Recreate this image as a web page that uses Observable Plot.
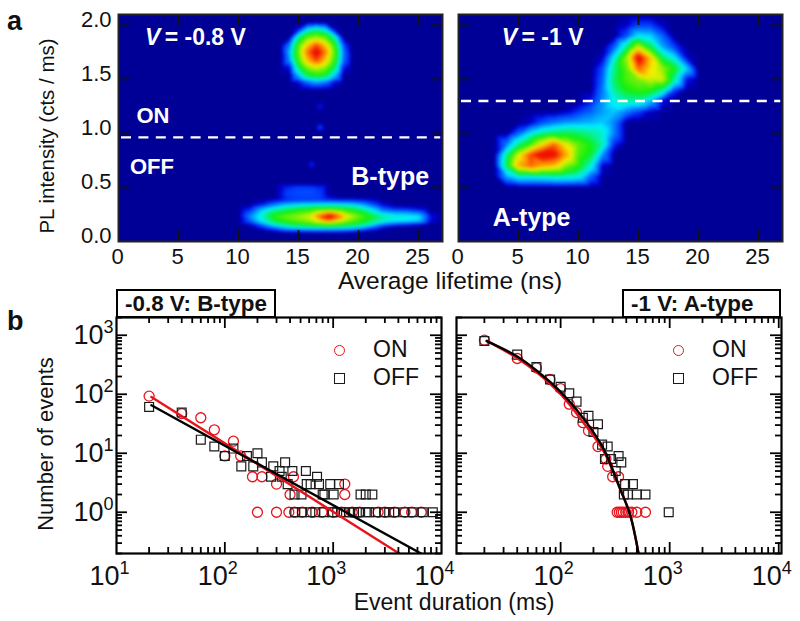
<!DOCTYPE html>
<html><head><meta charset="utf-8">
<script src="https://cdn.jsdelivr.net/npm/d3@7"></script>
<script src="https://cdn.jsdelivr.net/npm/@observablehq/plot@0.6"></script>
<style>
html,body{margin:0;padding:0;background:#fff}
#fig{position:relative;width:800px;height:621px;overflow:hidden;font-family:"Liberation Sans",Arial,sans-serif;color:#111}
#fig>svg,#fig>div{position:absolute}
#fig svg{overflow:visible;background:transparent}
.box{box-sizing:border-box;border:2px solid #000;font-weight:bold;font-size:22.4px;line-height:26px;white-space:nowrap}
.lab{white-space:nowrap;line-height:1}
.mk{box-sizing:border-box;width:11px;height:11px;background:#fff}
</style></head><body><div id="fig"></div>
<script>
// ---------- panel a: PL intensity vs lifetime, hand-read level grids (0 = background, 10 = peak)
const levelStops = [0, 0.25, 0.7, 2.2, 4, 6.4, 8, 9.4];
const levelColors = ["#000096", "#0000d0", "#0040ff", "#00f0ff", "#10f010", "#f4f000", "#ff8000", "#f01000"];

const topX = [13.5, 14.25, 15, 15.75, 16.5, 17.25, 18, 18.75, 19.5];
const topY = [2.03, 1.96, 1.89, 1.82, 1.75, 1.68, 1.61, 1.54, 1.47, 1.40];
const topZ = [
  [0, 0, 0, 0, 0, 0, 0, 0, 0],
  [0, 0, .4, 2.2, 2.9, 2.2, .2, 0, 0],
  [0, 0, 3, 4.9, 5.5, 4.8, 2.7, 0, 0],
  [0, 1.2, 4.5, 6.9, 8.5, 6.8, 4.2, .8, 0],
  [0, 1.7, 5, 8.2, 10, 8, 4.8, 1.2, 0],
  [0, 1.4, 4.6, 7.2, 8.8, 7, 4.4, 1.1, 0],
  [0, .3, 3.3, 5.3, 6, 5.3, 3.4, .4, 0],
  [0, 0, 1.8, 3.6, 4.2, 3.8, 2, 0, 0],
  [0, 0, .2, .9, 1.4, 1, .2, 0, 0],
  [0, 0, 0, 0, 0, 0, 0, 0, 0]
];
const lowX = [10, 11, 12, 13, 14, 15, 16, 17, 17.6, 18.5, 19, 20, 21, 22, 23, 24, 25, 26, 27];
const lowY = [.54, .50, .45, .41, .38, .34, .30, .27, .23, .19, .16, .13, .10, .07];
const lowZ = [
  [0, 0, 0, 0, 0, 0, 0, 0, 0, 0, 0, 0, 0, 0, 0, 0, 0, 0, 0],
  [0, 0, 0, 0, .5, .7, .7, .5, 0, 0, 0, 0, 0, 0, 0, 0, 0, 0, 0],
  [0, 0, 0, 0, .7, .8, .8, .6, 0, 0, 0, 0, 0, 0, 0, 0, 0, 0, 0],
  [0, 0, 0, 0, .6, .7, .7, .6, .2, 0, 0, 0, 0, 0, 0, 0, 0, 0, 0],
  [0, 0, 0, .3, .6, .7, .7, .7, .7, .6, .6, .5, .3, 0, 0, 0, 0, 0, 0],
  [0, 0, .5, 1.2, 1.8, 2.1, 2.3, 2.4, 2.4, 2.3, 2.2, 1.8, 1, .3, 0, 0, 0, 0, 0],
  [0, .5, 1.7, 2.6, 3.2, 3.7, 4, 4.4, 4.5, 4.2, 3.9, 3.2, 2.2, 1, .6, .5, .3, 0, 0],
  [0, .9, 2.3, 3.4, 4, 4.5, 5, 6.6, 7.4, 6, 4.9, 4.1, 3, 1.8, 1.5, 1.4, 1.1, 0, 0],
  [0, 1.4, 2.6, 4.3, 5, 5.5, 6.2, 9, 10, 8, 6.5, 5, 4, 3, 2.5, 2.4, 2.2, .4, 0],
  [0, 1, 2.3, 3.6, 4.3, 4.8, 5.4, 7, 7.6, 6.2, 5.3, 4.3, 3.5, 2.6, 2.2, 2.1, 1.9, .3, 0],
  [0, .3, 1.4, 2.6, 3.4, 3.9, 4.3, 4.7, 4.9, 4.5, 4.1, 3.5, 2.6, 1.4, .9, .7, .4, 0, 0],
  [0, 0, .5, 1.3, 2, 2.4, 2.7, 2.9, 2.9, 2.7, 2.5, 2, 1.1, .3, 0, 0, 0, 0, 0],
  [0, 0, 0, .3, .7, .8, .9, .9, .9, .9, .8, .6, .2, 0, 0, 0, 0, 0, 0],
  [0, 0, 0, 0, 0, 0, 0, 0, 0, 0, 0, 0, 0, 0, 0, 0, 0, 0, 0]
];
const speckX = [16.8, 16.8, 16.1];
const speckY = [1.055, 1.25, .71];
const speckZ = [.9, .5, .6];

const rightX = [3, 4, 5, 6, 7, 8, 9, 10, 11, 12, 13, 14, 15, 16, 17, 18, 19, 20];
const rightY = [2.1, 2.0, 1.9, 1.8, 1.7, 1.6, 1.5, 1.4, 1.3, 1.2, 1.1, 1.0, .9, .8, .7, .6, .5];
const rightZ = [
  [0, 0, 0, 0, 0, 0, 0, 0, 0, 0, 0, 0, 0, 0, 0, 0, 0, 0],
  [0, 0, 0, 0, 0, 0, 0, 0, 0, 0, 0, .2, .7, .7, .2, 0, 0, 0],
  [0, 0, 0, 0, 0, 0, 0, 0, 0, 0, 0, .8, 2.2, 2, 1, 0, 0, 0],
  [0, 0, 0, 0, 0, 0, 0, 0, 0, 0, 1, 3, 6, 3.6, 1.6, .7, 0, 0],
  [0, 0, 0, 0, 0, 0, 0, 0, 0, .2, 2.4, 5.4, 10, 7, 3.4, 2.2, .3, 0],
  [0, 0, 0, 0, 0, 0, 0, 0, 0, .8, 3.2, 4.8, 8.4, 6.6, 5.4, 4, 2, 0],
  [0, 0, 0, 0, 0, 0, 0, 0, 0, 1, 3.4, 4.6, 5.2, 6, 6, 3, .4, 0],
  [0, 0, 0, 0, 0, 0, 0, 0, 0, 1.2, 3, 4, 4.4, 4.2, 3, .7, 0, 0],
  [0, 0, 0, 0, 0, 0, 0, 0, .4, 1.4, 2.4, 2.8, 2.8, 1.8, .3, 0, 0, 0],
  [0, 0, 0, 0, 0, 0, .2, .6, 1, 1.5, 1.8, 1.2, .7, .2, 0, 0, 0, 0],
  [0, 0, 0, .2, .8, 1.2, 1.5, 1.6, 1.7, 1.9, 1.2, 0, 0, 0, 0, 0, 0, 0],
  [0, 0, 1, 2.2, 3, 3.4, 3.6, 3.4, 3, 2.6, 1.2, 0, 0, 0, 0, 0, 0, 0],
  [0, 1.2, 3, 4.4, 6.6, 8.2, 6.2, 4.8, 4, 2.8, .5, 0, 0, 0, 0, 0, 0, 0],
  [0, 3, 6.2, 8.8, 10, 9.6, 7.4, 4.6, 3.8, 1.4, 0, 0, 0, 0, 0, 0, 0, 0],
  [0, 3.4, 7.4, 8.4, 7.4, 7, 5.2, 4.2, 2.6, .2, 0, 0, 0, 0, 0, 0, 0, 0],
  [0, 1.6, 2.4, 2.4, 2.5, 2.7, 2.6, 2.4, 1, 0, 0, 0, 0, 0, 0, 0, 0, 0],
  [0, 0, 0, 0, 0, 0, 0, 0, 0, 0, 0, 0, 0, 0, 0, 0, 0, 0]
];
const lifetimeDomain = [0, 27];
const intensityDomain = [0, 2.1];
const lifetimeTicks = [0, 5, 10, 15, 20, 25];
const intensityTicks = [0, .5, 1, 1.5, 2];
const thresholdLeft = .963;
const thresholdRight = 1.30;

// ---------- panel b: event duration histograms
const leftOnX = [20, 40, 60, 80, 100, 120, 140, 180, 220, 300, 400, 430, 1280, 1280, 200, 300, 390, 440, 520, 640, 790, 1000, 1200, 1500, 1750, 2600, 3000, 3700, 4600, 5300, 6500];
const leftOnY = [93, 47, 40, 25, 9, 16, 9, 4, 4, 3, 2, 4, 3, 2, 1, 1, 1, 1, 1, 1, 1, 1, 1, 1, 1, 1, 1, 1, 1, 1, 1];
const leftOffX = [20, 40, 60, 80, 100, 120, 142, 160, 183, 200, 220, 267, 280, 320, 335, 360, 380, 420, 440, 510, 560, 570, 620, 710, 740, 800, 830, 940, 1010, 1130, 1790, 2000, 2300, 447, 515, 615, 685, 819, 979, 1090, 1256, 1400, 1556, 1730, 1996, 2140, 2470, 2958, 3290, 3660, 4530, 5420, 6710, 8310];
const leftOffY = [61, 49, 17, 13, 9, 12, 6, 9, 6, 10, 7, 4, 6, 5, 4, 7, 3, 5, 2, 2, 5, 3, 3, 4, 3, 2, 2, 3, 2, 3, 2, 2, 2, 1, 1, 1, 1, 1, 1, 1, 1, 1, 1, 1, 1, 1, 1, 1, 1, 1, 1, 1, 1, 1];
const leftOnFitX = [21, 4070];
const leftOnFitY = [90, .2];
const leftOffFitX = [21, 6470];
const leftOffFitY = [65, .2];

const rightOnX = [20, 40, 60, 80, 100, 120, 140, 160, 180, 220, 260, 270, 300, 340, 330, 345, 360, 375, 395, 420, 450, 500, 600];
const rightOnY = [824, 404, 280, 178, 125, 68, 49, 33, 24, 13, 8, 6, 4, 4, 1, 1, 1, 1, 1, 1, 1, 1, 1];
const rightOffX = [20, 40, 60, 80, 100, 120, 140, 160, 180, 200, 220, 240, 270, 255, 290, 340, 360, 320, 390, 460, 415, 500, 600, 380, 980];
const rightOffY = [800, 470, 290, 178, 134, 104, 75, 40, 43, 23, 31, 14, 13, 8, 8, 9, 7, 5, 3, 3, 2, 2, 2, 2, 1];
const rightOnFitX = [21, 39, 60, 100, 162, 247, 351, 434, 518];
const rightOnFitY = [810, 420, 238, 100, 33, 11, 2.5, .9, .2];
const rightOffFitX = [21, 39, 60, 100, 162, 247, 351, 434, 518];
const rightOffFitY = [794, 448, 253, 110, 39, 12, 2.5, .9, .2];
const decades = [10, 100, 1000, 10000];
const countDecades = [1, 10, 100, 1000];
const minorMultipliers = [2, 3, 4, 5, 6, 7, 8, 9];
const supDigits = {0: "⁰", 1: "¹", 2: "²", 3: "³", 4: "⁴"};

const FONT = '"Liberation Sans",Arial,sans-serif';
const fig = document.getElementById("fig");
function put(el, l, t){el.style.left = l + "px"; el.style.top = t + "px"; fig.appendChild(el);}
const centered = "translate(-50%,-50%)";
function label(txt, l, t, size, extra){
  const d = document.createElement("div"); d.className = "lab"; d.textContent = txt;
  d.style.fontSize = size + "px"; Object.assign(d.style, extra || {}); put(d, l, t); return d;
}
function gridPoints(xs, ys, zs){
  const out = [];
  ys.forEach((y, j) => xs.forEach((x, i) => out.push({x, y, z: zs[j][i]})));
  return out;
}
function speckPoints(){
  const out = [];
  speckX.forEach((x, i) => {
    out.push({x, y: speckY[i], z: speckZ[i]});
    for (const [dx, dy] of [[-.4,0],[.4,0],[0,-.04],[0,.04],[-.3,-.03],[.3,.03],[-.3,.03],[.3,-.03]])
      out.push({x: x + dx, y: speckY[i] + dy, z: 0});
  });
  return out;
}
const corners = [];
lifetimeDomain.forEach(x => intensityDomain.forEach(y => corners.push({x, y, z: 0})));

const heatLabels = {
  left: [
    {x: 2.2, y: 1.885, t: "V", s: 23, st: "italic"},
    {x: 3.85, y: 1.885, t: "= -0.8 V", s: 23},
    {x: 1.5, y: 1.165, t: "ON", s: 22},
    {x: .95, y: .69, t: "OFF", s: 22},
    {x: 19.4, y: .6, t: "B-type", s: 25}
  ],
  right: [
    {x: 3.6, y: 1.885, t: "V", s: 23, st: "italic"},
    {x: 5.25, y: 1.885, t: "= -1 V", s: 23},
    {x: 2.85, y: .22, t: "A-type", s: 25}
  ]
};

// inward tick marks on all four sides, drawn as rules inset from the frame
function insideTicks(xs, ys, len, W, H, o){
  return [
    Plot.ruleX(xs, {insetTop: H - len, ...o}),
    Plot.ruleX(xs, {insetBottom: H - len, ...o}),
    Plot.ruleY(ys, {insetRight: W - len, ...o}),
    Plot.ruleY(ys, {insetLeft: W - len, ...o})
  ];
}

function heat(points, threshold, labels, showY, left){
  const mL = 60, mT = 4, mB = 30, mR = 6, W = 324, H = 227;
  const svg = Plot.plot({
    width: W + mL + mR, height: H + mT + mB,
    marginLeft: mL, marginRight: mR, marginTop: mT, marginBottom: mB,
    style: {background: "transparent", fontFamily: FONT},
    x: {domain: lifetimeDomain},
    y: {domain: intensityDomain, axis: showY ? undefined : null},
    color: {type: "linear", domain: levelStops, range: levelColors, clamp: true},
    marks: [
      Plot.raster(points, {x: "x", y: "y", fill: "z", interpolate: "barycentric", pixelSize: 1, blur: 1}),
      Plot.ruleY([threshold], {x1: .25, x2: 26.85, stroke: "#fff", strokeWidth: 2.3, strokeDasharray: "10 7.4"}),
      ...labels.map(l => Plot.text([l], {x: "x", y: "y", text: "t", fill: "#fff", textAnchor: "start", fontWeight: "bold", fontSize: l.s, fontStyle: l.st || "normal", fontFamily: FONT})),
      Plot.axisX({ticks: lifetimeTicks, tickSize: 0, tickPadding: 7, dx: -1, fontSize: 22, label: null, fill: "#111"}),
      ...(showY ? [Plot.axisY({ticks: intensityTicks, tickSize: 0, tickPadding: 7, dy: -5.5, tickFormat: d3.format(".1f"), fontSize: 22, label: null, fill: "#111"})] : []),
      ...insideTicks(lifetimeTicks.slice(1), intensityTicks.slice(1), 11, W, H, {stroke: "#111", strokeWidth: 1.8}),
      Plot.frame({stroke: "#222", strokeWidth: 2})
    ]
  });
  put(svg, left - mL, 14 - mT);
}
heat([...corners, ...gridPoints(topX, topY, topZ), ...gridPoints(lowX, lowY, lowZ), ...speckPoints()], thresholdLeft, heatLabels.left, true, 118);
heat([...corners, ...gridPoints(rightX, rightY, rightZ)], thresholdRight, heatLabels.right, false, 458);

const pow10 = d => "10" + supDigits[Math.round(Math.log10(d))];
const pairs = (xs, ys) => xs.map((x, i) => ({x, y: ys[i]}));
// turn "10³" tick labels into a large base with a real raised exponent
function raiseExponents(svg){
  const digits = Object.fromEntries(Object.entries(supDigits).map(([k, v]) => [v, k]));
  d3.select(svg).selectAll("text").each(function(){
    const m = /^10([⁰¹²³⁴])$/.exec(this.textContent);
    if (!m) return;
    const host = d3.select(this);
    const holder = host.select("tspan").empty() ? host : host.select("tspan");
    holder.text("10");
    holder.append("tspan").attr("font-size", 18).attr("dy", -11).text(digits[m[1]]);
  });
}

function hist(cfg){
  const mL = 70, mT = 2, mB = 44, mR = 12, W = 325, H = 236;
  const inX = v => v >= cfg.dx[0] && v <= cfg.dx[1];
  const inY = v => v >= .2 && v <= 2000;
  const xMajor = decades.filter(inX);
  const xMinor = decades.flatMap(d => minorMultipliers.map(m => d * m)).filter(inX);
  const yMinor = [.1, ...countDecades].flatMap(d => minorMultipliers.map(m => d * m)).filter(inY);
  const tk = {stroke: "#000", strokeWidth: 1.8};
  const svg = Plot.plot({
    width: W + mL + mR, height: H + mT + mB,
    marginLeft: mL, marginRight: mR, marginTop: mT, marginBottom: mB,
    style: {background: "transparent", fontFamily: FONT},
    x: {type: "log", domain: cfg.dx},
    y: {type: "log", domain: [.2, 2000], axis: cfg.showY ? undefined : null},
    marks: [
      Plot.dot(pairs(...cfg.on), {x: "x", y: "y", r: 5, stroke: "#e8141c", strokeWidth: 1.3, fill: "none"}),
      Plot.dot(pairs(...cfg.off), {x: "x", y: "y", r: 5, symbol: "square", stroke: "#1a1a1a", strokeWidth: 1.2, fill: "none"}),
      Plot.line(pairs(...cfg.onFit), {x: "x", y: "y", stroke: "#e8141c", strokeWidth: 2.4, clip: true, curve: cfg.curve}),
      Plot.line(pairs(...cfg.offFit), {x: "x", y: "y", stroke: "#000", strokeWidth: 2.4, clip: true, curve: cfg.curve}),
      Plot.axisX({ticks: xMajor, tickSize: 0, tickPadding: 12, dx: -7, tickFormat: pow10, fontSize: 27, label: null, fill: "#111"}),
      ...(cfg.showY ? [Plot.axisY({ticks: countDecades, tickSize: 0, tickPadding: 3, tickFormat: pow10, fontSize: 27, label: null, fill: "#111"})] : []),
      ...insideTicks(xMajor.filter(v => v < cfg.dx[1] && v > cfg.dx[0]), countDecades, 11, W, H, tk),
      ...insideTicks(xMinor, yMinor, 6, W, H, tk),
      Plot.frame({stroke: "#000", strokeWidth: 2.2})
    ]
  });
  raiseExponents(svg);
  put(svg, cfg.left - mL, 317 - mT);
}
hist({left: 116, dx: [10, 10000], showY: true, curve: "linear",
  on: [leftOnX, leftOnY], off: [leftOffX, leftOffY],
  onFit: [leftOnFitX, leftOnFitY], offFit: [leftOffFitX, leftOffFitY]});
hist({left: 456, dx: [11.1, 10600], showY: false, curve: "catmull-rom",
  on: [rightOnX, rightOnY], off: [rightOffX, rightOffY],
  onFit: [rightOnFitX, rightOnFitY], offFit: [rightOffFitX, rightOffFitY]});

// titles and labels
function box(t, l, w, pad){
  const d = document.createElement("div"); d.className = "box"; d.textContent = t;
  d.style.width = w + "px"; d.style.height = "29px"; d.style.paddingLeft = pad + "px"; put(d, l, 289);
}
box("-0.8 V: B-type", 116, 160, 7);
box("-1 V: A-type", 622, 159, 7);
label("a", 7, 8, 27, {fontWeight: "bold"});
label("b", 7, 308, 27, {fontWeight: "bold"});
label("Average lifetime (ns)", 450, 281, 24.5, {transform: centered});
label("Event duration (ms)", 454, 602, 23, {transform: centered});
const rot = {transform: centered + " rotate(-90deg)"};
label("PL intensity (cts / ms)", 47, 136, 20.5, rot);
label("Number of events", 46, 444, 22, rot);

function legend(xMark, xText){
  const c = document.createElement("div"); c.className = "mk";
  c.style.cssText += "border:1.3px solid #e8141c;border-radius:50%"; put(c, xMark - 5, 345);
  const s = document.createElement("div"); s.className = "mk";
  s.style.cssText += "border:1.3px solid #1a1a1a"; put(s, xMark - 5, 373);
  label("ON", xText, 338, 23);
  label("OFF", xText, 366, 23);
}
legend(339, 373);
legend(678, 712);
</script></body></html>
